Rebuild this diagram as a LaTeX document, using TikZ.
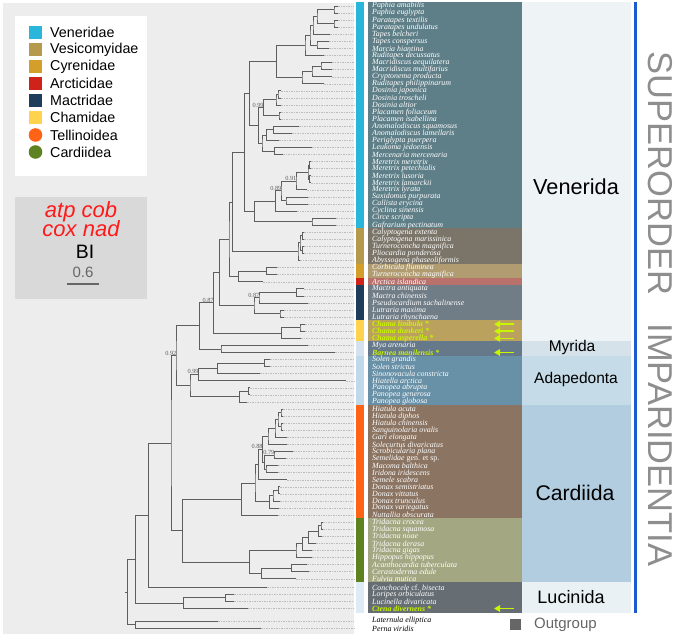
\documentclass[tikz,border=0pt]{standalone}
\usepackage{fontspec}
\setmainfont{Liberation Serif}
\newfontfamily\arial{Liberation Sans}
\usetikzlibrary{arrows.meta,calc,positioning}
\definecolor{panel}{HTML}{EDEDED}
\definecolor{branch}{HTML}{5E5E5E}
\definecolor{tipgray}{HTML}{BDBDBD}
\definecolor{cVen}{HTML}{29B6DA}
\definecolor{cVes}{HTML}{B59A4E}
\definecolor{cCyr}{HTML}{D49E2B}
\definecolor{cArc}{HTML}{CF2219}
\definecolor{cMac}{HTML}{1D3D5B}
\definecolor{cCha}{HTML}{FFD34D}
\definecolor{cMyr}{HTML}{D3E2EE}
\definecolor{cAda}{HTML}{BFD9EA}
\definecolor{cTel}{HTML}{FF6316}
\definecolor{cCar}{HTML}{5E8220}
\definecolor{cLuc}{HTML}{DDEBF4}
\definecolor{bVen}{HTML}{5F7F88}
\definecolor{bVes}{HTML}{7B7569}
\definecolor{bCyr}{HTML}{B09C70}
\definecolor{bArc}{HTML}{B9716C}
\definecolor{bMac}{HTML}{707C86}
\definecolor{bCha}{HTML}{BBA15E}
\definecolor{bMyr}{HTML}{66798A}
\definecolor{bAda}{HTML}{6890A6}
\definecolor{bTel}{HTML}{8B7462}
\definecolor{bCar}{HTML}{A4A882}
\definecolor{bLuc}{HTML}{666E74}
\definecolor{rVen}{HTML}{EEF3F6}
\definecolor{rMyr}{HTML}{D6E2EA}
\definecolor{rAda}{HTML}{C5DBE7}
\definecolor{rCar}{HTML}{B1CDDF}
\definecolor{rLuc}{HTML}{E9F1F4}
\definecolor{lime}{HTML}{C8F500}
\definecolor{genered}{HTML}{FF1A1A}
\definecolor{mute}{HTML}{666666}
\definecolor{supblue}{HTML}{1A5CCF}
\definecolor{supgray}{HTML}{8E8E8E}
\tikzset{
  br/.style={draw=branch,line width=0.8pt},
  tipln/.style={draw=tipgray,line width=0.4pt,dash pattern=on 1.5pt off 1pt},
  sp/.style={anchor=west,inner sep=0pt,text=white,font=\fontsize{7.9}{8}\selectfont\itshape},
  ppl/.style={inner sep=0.3pt,text=branch,font=\fontsize{6.3}{7}\selectfont},
  legtxt/.style={anchor=west,inner sep=0pt,font=\arial\fontsize{14.3}{16}\selectfont},
  gene/.style={inner sep=0pt,text=genered,font=\arial\itshape\fontsize{22}{22}\selectfont},
  ordlab/.style={inner sep=0pt,font=\arial\fontsize{#1}{#1}\selectfont},
  hlarr/.style={-{Triangle[length=6pt,width=6.5pt]},draw=lime,line width=1.6pt},
}
\newcommand\hl{\color{lime}\bfseries}
% x of node, then its two outer children
\newcommand\cld[4]{%
  \path let \p1=($(#3)!0.5!(#4)$) in (#2pt,\y1) coordinate (#1);
  \draw[br] (#3) -| (#1) |- (#4);}
\newcommand\ppv[2]{\node[ppl,anchor=south east] (#1-pp) at ([xshift=0.8pt]#1) {#2};}

\begin{document}
\begin{tikzpicture}[x=1pt,y=-1pt]
\useasboundingbox (0,0) rectangle (676,639);
\fill[panel] (3,3) rectangle (354,634);

% legend
\fill[white] (15,16) rectangle (147,176);
\foreach \c/\t [count=\n from 0] in {cVen/Veneridae,cVes/Vesicomyidae,cCyr/Cyrenidae,cArc/Arcticidae,cMac/Mactridae,cCha/Chamidae}{
  \fill[\c] (29,{26+\n*17}) rectangle ++(13,13);
  \node[legtxt] (leg\n) at (50,{32.5+\n*17}) {\t};
}
\fill[cTel] (35.5,135) circle (6.8pt);
\node[legtxt] (leg6) at (50,135) {Tellinoidea};
\fill[cCar] (35.5,152) circle (6.8pt);
\node[legtxt] (leg7) at (50,152) {Cardiidea};

% data set / method box
\fill[black!15] (15,197) rectangle (147,299);
\node[gene] (gn1) at (81,212) {atp cob};
\node[gene] (gn2) at (81,229) {cox nad};
\node[ordlab=19.4] (bi) at (85,252) {BI};
\node[ordlab=15,text=mute] (scl) at (83,272) {0.6};
\draw[mute,line width=2.5pt] (67,284) -- (99,284);

% tips
\foreach \i/\tx in {1/338,2/338,3/338,4/338,5/330,6/329,7/329,8/324,9/332,10/332,11/332,12/324,
  13/281,14/281,15/281,16/281,17/281,18/299,19/292,20/279,21/312,22/283,23/311,24/311,25/311,
  26/311,27/307,28/308,29/308,30/297,31/336,32/336,33/304,34/304,35/304,36/304,37/300,38/277,
  39/277,40/263,41/304,42/304,43/308,44/284,45/284,46/305,47/305,48/301,49/308,50/335,51/270,
  52/270,53/260,54/346,55/250,56/250,57/247,58/283,59/283,60/283,61/283,62/287,63/287,64/293,
  65/286,66/278,67/278,68/287,69/280,70/280,71/280,72/279,73/278,74/323,75/323,76/322,77/316,
  78/312,79/312,80/307,81/309,82/296,83/267,84/234,85/234,86/248}{
  \pgfmathsetmacro\ty{2.5+(\i-0.5)*7.07+(\i>82)*1.5}
  \coordinate (t\i) at (\tx,\ty);
}
\coordinate (t87) at (218,621);
\coordinate (t88) at (261,628.5);
\coordinate (dashend) at (354,0);
\coordinate (labx) at (372,0);
\coordinate (arrR) at (514,0);
\coordinate (arrL) at (494,0);
\foreach \i in {1,...,88} \draw[tipln] (t\i) -- (t\i -| dashend);

% Veneridae
\cld{v1}{334}{t1}{t2} \cld{v2}{334}{t3}{t4} \cld{v3}{317}{v1}{v2} \cld{v4}{313}{v3}{t5}
\cld{v5}{317}{t6}{t7} \cld{v6}{310}{v4}{v5} \cld{v7}{305}{v6}{t8}
\cld{v8}{321}{t9}{t10} \cld{v9}{312}{v8}{t11} \cld{v10}{302}{v9}{t12} \cld{v11}{276.7}{v7}{v10}
\cld{w1}{278}{t13}{t14} \cld{w2}{276}{w1}{t15} \cld{w3}{279}{t16}{t17} \cld{w4}{263.3}{w2}{w3}
\cld{w5}{273.3}{t18}{t19} \cld{w6}{266.7}{w5}{t20} \cld{w7}{274.3}{t21}{t22} \cld{w8}{262}{w6}{w7}
\cld{w9}{258.7}{w4}{w8} \cld{V1}{249.3}{v11}{w9}
\cld{a1}{309.5}{t23}{t24} \cld{a2}{309.5}{t25}{t26} \cld{a3}{308}{a1}{a2} \cld{a4}{296}{a3}{t27}
\cld{a5}{286}{t28}{t29} \cld{a6}{281}{a4}{a5} \cld{a7}{275.7}{a6}{t30} \cld{a8}{312}{t31}{t32}
\cld{a9}{254.3}{a7}{a8} \cld{V2}{244.3}{V1}{a9}
% Vesicomyidae, Cyrenidae, Arcticidae, Mactridae, Chamidae
\cld{b1}{302.5}{t33}{t34} \cld{b2}{302.5}{t35}{t36} \cld{b3}{300}{b1}{b2} \cld{b4}{298}{b3}{t37}
\cld{V3}{232.7}{V2}{b4}
\cld{c1}{266.7}{t38}{t39} \cld{c2}{238.3}{c1}{t40} \cld{V4}{229}{V3}{c2}
\cld{d1}{296.7}{t41}{t42} \cld{d2}{259}{d1}{t43} \cld{d3}{280}{t44}{t45} \cld{d4}{254}{d2}{d3}
\cld{V5}{219.3}{V4}{d4}
\cld{e1}{300}{t46}{t47} \cld{e2}{281.7}{e1}{t48} \cld{V6}{213.3}{V5}{e2}
% Myrida, Adapedonta
\cld{f1}{221}{t49}{t50} \cld{V7}{199.3}{V6}{f1}
\cld{g1}{264.3}{t51}{t52} \cld{g2}{217.7}{g1}{t53} \cld{g3}{198.3}{g2}{t54}
\cld{g4}{248.3}{t55}{t56} \cld{g5}{239.3}{g4}{t57} \cld{g6}{190}{g3}{g5} \cld{V8}{176}{V7}{g6}
% Tellinoidea
\cld{h1}{281}{t58}{t59} \cld{h2}{281}{t60}{t61} \cld{h3}{278}{h1}{h2} \cld{h4}{275}{h3}{t62}
\cld{h5}{268}{h4}{t63} \cld{h6}{274}{t64}{t65} \cld{h7}{266}{t66}{t67} \cld{h8}{264.5}{h6}{h7}
\cld{h9}{262.3}{h5}{h8} \cld{h10}{258.7}{h9}{t68}
\cld{k1}{278.7}{t69}{t70} \cld{k2}{273}{k1}{t71} \cld{k3}{269.3}{k2}{t72} \cld{k4}{255}{h10}{k3}
\cld{k5}{241.3}{k4}{t73}
% Cardiidea
\cld{m1}{321}{t74}{t75} \cld{m2}{318.3}{m1}{t76} \cld{m3}{308.3}{m2}{t77} \cld{m4}{302.7}{m3}{t78}
\cld{m5}{296}{m4}{t79} \cld{m6}{291.7}{t80}{t81} \cld{m7}{261.7}{m6}{t82} \cld{m8}{249.3}{m5}{m7}
\cld{H}{182.7}{k5}{m8} \cld{V9}{171}{V8}{H} \cld{V10}{148.3}{V9}{t83}
% Lucinida, outgroup
\cld{p1}{225.7}{t84}{t85} \cld{p2}{183.3}{p1}{t86} \cld{V11}{135.7}{V10}{p2}
\cld{o1}{135.7}{t87}{t88} \cld{root}{127.3}{V11}{o1}
\draw[br] (root) -- ++(-2.5,0);

% posterior probabilities below 1
\ppv{w4}{0.99} \ppv{a4}{0.91} \ppv{a6}{0.89} \ppv{d2}{0.87} \ppv{V6}{0.87}
\ppv{V8}{0.92} \ppv{g3}{0.99} \ppv{h9}{0.88} \ppv{h6}{0.79}

% family bars and label boxes
\foreach \a/\b/\cb/\cx in {0/32/cVen/bVen,32/37/cVes/bVes,37/39/cCyr/bCyr,39/40/cArc/bArc,
  40/45/cMac/bMac,45/48/cCha/bCha,48/50/cMyr/bMyr,50/57/cAda/bAda,57/73/cTel/bTel,73/82/cCar/bCar}{
  \fill[\cb] (356,{2+\a*7.07}) rectangle (364,{2+\b*7.07});
  \fill[\cx] (368,{2+\a*7.07}) rectangle (522,{2+\b*7.07});
}
\fill[cLuc] (356,581.7) rectangle (364,613);
\fill[bLuc] (368,581.7) rectangle (522,613);

% orders
\fill[rVen] (522,2) rectangle (631,341.4);
\fill[rMyr] (522,341.4) rectangle (631,355.5);
\fill[rAda] (522,355.5) rectangle (631,405);
\fill[rCar] (522,405) rectangle (631,581.7);
\fill[rLuc] (522,581.7) rectangle (631,613);
\node[ordlab=21.7] (ven) at (576,187) {Venerida};
\node[ordlab=15.5] (myr) at (572,347.5) {Myrida};
\node[ordlab=15.5] (ada) at (576,379) {Adapedonta};
\node[ordlab=21.2] (car) at (575,493) {Cardiida};
\node[ordlab=18] (luc) at (571,597.5) {Lucinida};
\draw[supblue,line width=3pt] (635.5,2) -- (635.5,613);
\node[ordlab=34.5,text=supgray,rotate=-90] (sup) at (660,309) {SUPERORDER\hspace{0.55em} IMPARIDENTIA};
\fill[mute] (510,619) rectangle (521,630);
\node[ordlab=15,text=mute,anchor=west] (outg) at (534,625) {Outgroup};

% species
\foreach \i/\nm in {1/Paphia amabilis,2/Paphia euglypta,3/Paratapes textilis,4/Paratapes undulatus,
  5/Tapes belcheri,6/Tapes conspersus,7/Marcia hiantina,8/Ruditapes decussatus,
  9/Macridiscus aequilatera,10/Macridiscus multifarius,11/Cryptonema producta,
  12/Ruditapes philippinarum,13/Dosinia japonica,14/Dosinia troscheli,15/Dosinia altior,
  16/Placamen foliaceum,17/Placamen isabellina,18/Anomalodiscus squamosus,
  19/Anomalodiscus lamellaris,20/Periglypta puerpera,21/Leukoma jedoensis,
  22/Mercenaria mercenaria,23/Meretrix meretrix,24/Meretrix petechialis,25/Meretrix lusoria,
  26/Meretrix lamarckii,27/Meretrix lyrata,28/Saxidomus purpurata,29/Callista erycina,
  30/Cyclina sinensis,31/Circe scripta,32/Gafrarium pectinatum,33/Calyptogena extenta,
  34/Calyptogena marissinica,35/Turneroconcha magnifica,36/Pliocardia ponderosa,
  37/Abyssogena phaseoliformis,38/Corbicula fluminea,39/Turneroconcha magnifica,
  40/Arctica islandica,41/Mactra antiquata,42/Mactra chinensis,43/Pseudocardium sachalinense,
  44/Lutraria maxima,45/Lutraria rhynchaena,46/{\hl Chama limbula *},47/{\hl Chama dunkeri *},
  48/{\hl Chama asperella *},49/Mya arenaria,50/{\hl Barnea manilensis *},51/Solen grandis,
  52/Solen strictus,53/Sinonovacula constricta,54/Hiatella arctica,55/Panopea abrupta,
  56/Panopea generosa,57/Panopea globosa,58/Hiatula acuta,59/Hiatula diphos,
  60/Hiatula chinensis,61/Sanguinolaria ovalis,62/Gari elongata,63/Solecurtus divaricatus,
  64/Scrobicularia plana,65/{Semelidae \upshape gen. et sp.},66/Macoma balthica,
  67/Iridona iridescens,68/Semele scabra,69/Donax semistriatus,70/Donax vittatus,
  71/Donax trunculus,72/Donax variegatus,73/Nuttallia obscurata,74/Tridacna crocea,
  75/Tridacna squamosa,76/Tridacna noae,77/Tridacna derasa,78/Tridacna gigas,
  79/Hippopus hippopus,80/Acanthocardia tuberculata,81/Cerastoderma edule,82/Fulvia mutica,
  83/{Conchocele \upshape cf. \itshape bisecta},84/Loripes orbiculatus,85/Lucinella divaricata,
  86/{\hl Ctena divernens *},87/{\color{black}Laternula elliptica},88/{\color{black}Perna viridis}}
  \node[sp] (s\i) at (t\i -| labx) {\nm};

% newly sequenced
\foreach \i in {46,47,48,50,86} \draw[hlarr] (t\i -| arrR) -- (t\i -| arrL);
\end{tikzpicture}
\end{document}
